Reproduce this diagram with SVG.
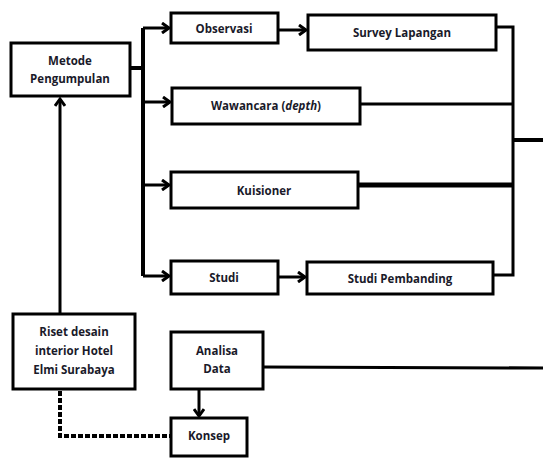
<svg xmlns="http://www.w3.org/2000/svg" width="543" height="458" viewBox="0 0 543 458">
<style>
.box{fill:#fff;stroke:#000;stroke-width:3}
.t{font-family:"Open Sans","Liberation Sans",sans-serif;font-weight:bold;font-size:11.5px;fill:#1a1a2a;text-anchor:middle}
.ln{fill:none;stroke:#000;stroke-width:3}
.bus{fill:none;stroke:#000;stroke-width:4}
.dot{fill:none;stroke:#000;stroke-width:4;stroke-dasharray:5 2}
</style>
<defs>
<marker id="arr" markerWidth="12" markerHeight="12" refX="9" refY="6" orient="auto" markerUnits="userSpaceOnUse">
<path d="M2,1 L9,6 L2,11" fill="none" stroke="#000" stroke-width="3"/>
</marker>
</defs>
<rect width="543" height="458" fill="#fff"/>
<g id="connectors">
<polyline class="bus" points="130,68 143,68"/>
<polyline class="bus" points="143,28 143,276"/>
<line class="ln" x1="143" y1="28" x2="169" y2="28" marker-end="url(#arr)"/>
<line class="ln" x1="143" y1="102" x2="170" y2="102" marker-end="url(#arr)"/>
<line class="ln" x1="143" y1="185" x2="169" y2="185" marker-end="url(#arr)"/>
<line class="ln" x1="143" y1="276" x2="169" y2="276" marker-end="url(#arr)"/>
<line class="ln" x1="278" y1="30" x2="306" y2="30" marker-end="url(#arr)"/>
<line class="ln" x1="278" y1="277" x2="305" y2="277" marker-end="url(#arr)"/>
<polyline class="ln" points="496,27 513,27 513,275 493,275"/>
<line class="ln" x1="360" y1="104" x2="513" y2="104"/>
<line x1="358" y1="185" x2="513" y2="185" stroke="#000" stroke-width="5"/>
<line class="bus" x1="513" y1="140" x2="543" y2="140"/>
<line class="ln" x1="263" y1="367" x2="543" y2="368"/>
<line class="ln" x1="60" y1="314" x2="60" y2="99" marker-end="url(#arr)"/>
<line class="ln" x1="199" y1="389" x2="199" y2="416" marker-end="url(#arr)"/>
<polyline class="dot" points="60,391 60,436 171,436"/>
</g>
<g id="metode">
<rect class="box" x="11" y="43" width="119" height="53"/>
<text class="t" x="70" y="65">Metode</text>
<text class="t" x="70" y="83">Pengumpulan</text>
</g>
<g id="observasi">
<rect class="box" x="171" y="13" width="107" height="30"/>
<text class="t" x="224" y="33">Observasi</text>
</g>
<g id="survey">
<rect class="box" x="308" y="15" width="188" height="35"/>
<text class="t" x="402" y="37">Survey Lapangan</text>
</g>
<g id="wawancara">
<rect class="box" x="172" y="88" width="188" height="36"/>
<text class="t" x="266" y="110">Wawancara (<tspan font-style="italic">depth</tspan>)</text>
</g>
<g id="kuisioner">
<rect class="box" x="171" y="172" width="187" height="36"/>
<text class="t" x="264" y="195">Kuisioner</text>
</g>
<g id="studi">
<rect class="box" x="171" y="261" width="107" height="33"/>
<text class="t" x="224" y="282">Studi</text>
</g>
<g id="studi-pembanding">
<rect class="box" x="307" y="262" width="186" height="32"/>
<text class="t" x="400" y="283">Studi Pembanding</text>
</g>
<g id="riset">
<rect class="box" x="13" y="314" width="122" height="75"/>
<text class="t" x="74" y="336">Riset desain</text>
<text class="t" x="74" y="355">interior Hotel</text>
<text class="t" x="74" y="374">Elmi Surabaya</text>
</g>
<g id="analisa">
<rect class="box" x="171" y="332" width="92" height="57"/>
<text class="t" x="217" y="355">Analisa</text>
<text class="t" x="217" y="373">Data</text>
</g>
<g id="konsep">
<rect class="box" x="171" y="418" width="76" height="38"/>
<text class="t" x="209" y="440">Konsep</text>
</g>
</svg>
